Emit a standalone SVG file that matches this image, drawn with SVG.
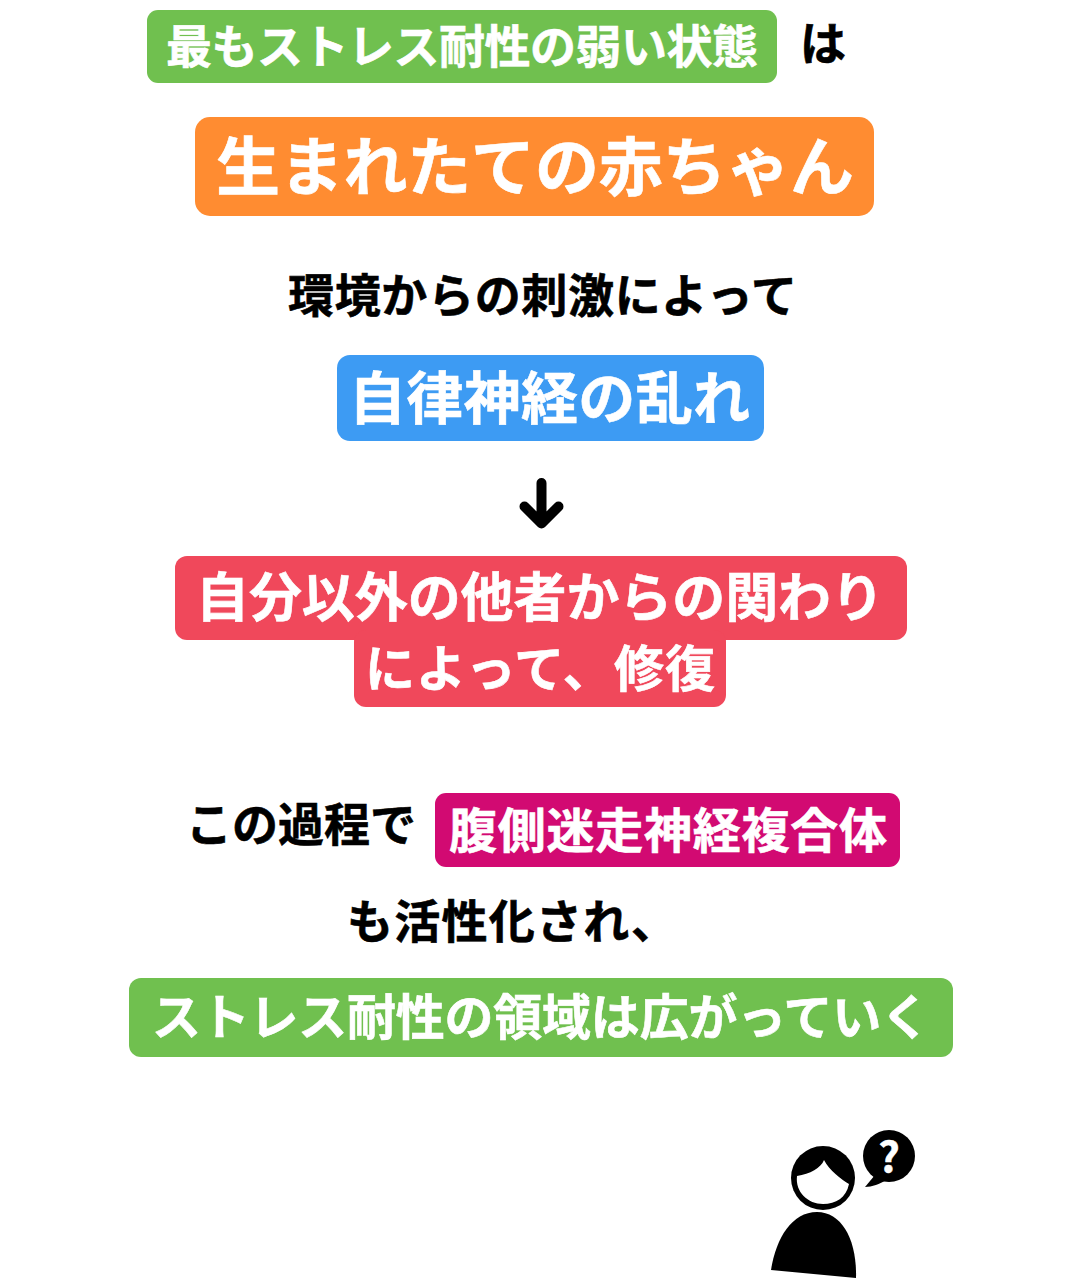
<svg xmlns="http://www.w3.org/2000/svg" width="1080" height="1280" viewBox="0 0 1080 1280">
<style>
text{font-family:"Noto Sans CJK JP","Noto Sans",sans-serif;font-weight:700;stroke-width:.6}
.w{fill:#fff;stroke:#fff}.k{fill:#000;stroke:#000}
.g{fill:#70c04f}.o{fill:#ff8c31}.b{fill:#3d9bf3}.r{fill:#f0485b}.m{fill:#d20a72}
</style>
<rect width="1080" height="1280" fill="#fff"/>
<g id="node-weakest">
<rect class="g" x="147" y="10" width="630" height="73" rx="11"/>
<text class="w" x="166" y="63" font-size="46" textLength="592" lengthAdjust="spacing">最もストレス耐性の弱い状態</text>
</g>
<g id="node-ha"><text class="k" x="800" y="60" font-size="46" textLength="46">は</text></g>
<g id="node-newborn">
<rect class="o" x="195" y="117" width="679" height="99" rx="15"/>
<text class="w" x="216" y="190" font-size="64" textLength="638">生まれたての赤ちゃん</text>
</g>
<g id="node-stimulus"><text class="k" x="288" y="312" font-size="46" textLength="509">環境からの刺激によって</text></g>
<g id="node-ans">
<rect class="b" x="337" y="355" width="427" height="86" rx="13"/>
<text class="w" x="349" y="419" font-size="57" textLength="401">自律神経の乱れ</text>
</g>
<g id="connectors">
<path d="M541.500 483V523M524.500 506.500L541.500 523.500L558.500 506.500" fill="none" stroke="#000" stroke-width="10" stroke-linecap="round" stroke-linejoin="round"/>
</g>
<g id="node-repair">
<rect class="r" x="175" y="556" width="732" height="84" rx="12"/>
<rect class="r" x="354" y="630" width="372" height="77" rx="12"/>
<text class="w" x="196" y="617" font-size="53" textLength="688">自分以外の他者からの関わり</text>
<text class="w" x="365" y="687" font-size="50" textLength="350">によって、修復</text>
</g>
<g id="node-process"><text class="k" x="186" y="841" font-size="46" textLength="230">この過程で</text></g>
<g id="node-vvc">
<rect class="m" x="435" y="793" width="465" height="74" rx="11"/>
<text class="w" x="449" y="848" font-size="48" textLength="438">腹側迷走神経複合体</text>
</g>
<g id="node-activated"><text class="k" x="347" y="938" font-size="46" textLength="330">も活性化され、</text></g>
<g id="node-tolerance">
<rect class="g" x="129" y="978" width="824" height="79" rx="12"/>
<text class="w" x="152" y="1035" font-size="49" textLength="778">ストレス耐性の領域は広がっていく</text>
</g>
<g id="node-person">
<circle cx="823" cy="1178" r="32" fill="#000"/>
<path d="M797 1176C810 1174 821 1168 824 1160C829 1170 842 1180 849 1184C846 1198 836 1204 823 1204C808 1204 795 1192 797 1176Z" fill="#fff"/>
<path d="M771 1270C776 1238 792 1212 817 1212C842 1212 857 1240 856 1278Z" fill="#000"/>
<circle cx="889" cy="1156" r="26" fill="#000"/>
<path d="M875 1175L865 1187C872 1187 880 1184 886 1180Z" fill="#000"/>
<text class="w" x="889" y="1172" font-size="42" text-anchor="middle">?</text>
</g>
</svg>
